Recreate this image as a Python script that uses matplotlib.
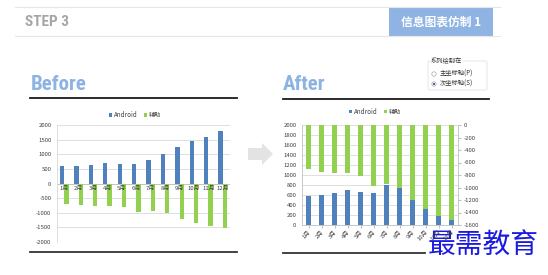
import matplotlib
matplotlib.use("Agg")
import matplotlib.pyplot as plt
from matplotlib import font_manager
from matplotlib.patches import Rectangle, FancyArrow, FancyBboxPatch, Circle
import numpy as np

plt.rcParams['font.family'] = ['Noto Sans CJK SC', 'DejaVu Sans']

# data
months = ['1月', '2月', '3月', '4月', '5月', '6月', '7月', '8月', '9月', '10月', '11月', '12月']
android = [590, 610, 640, 700, 670, 650, 810, 1020, 1240, 1440, 1600, 1800]
fuzhu = [-700, -750, -760, -770, -820, -980, -950, -1000, -1200, -1350, -1450, -1520]
series_names = ['Android', '辅助']
before_ticks = [-2000, -1500, -1000, -500, 0, 500, 1000, 1500, 2000]
after_left_ticks = list(range(0, 2001, 200))
after_right_ticks = list(range(-1600, 1, 200))

BLUE = '#4f81bd'
GREEN = '#92d050'
TITLE_BLUE = '#8db3e2'
GRID = '#d9d9d9'
TXT = '#404040'

# pick a narrow font for the headings if one is around
names = {f.name for f in font_manager.fontManager.ttflist}
narrow = None
for cand in ['Liberation Sans Narrow', 'Roboto Condensed', 'DejaVu Sans Condensed',
             'Open Sans Condensed']:
    if cand in names:
        narrow = cand
        break
print('narrow font:', narrow)
HEAD = [narrow, 'DejaVu Sans'] if narrow else ['DejaVu Sans']

W, H = 548, 275
fig = plt.figure(figsize=(W / 100, H / 100), dpi=100)
fig.patch.set_facecolor('white')


def box(x0, y0, x1, y1):
    # pixel box -> figure fraction
    return [x0 / W, 1 - y1 / H, (x1 - x0) / W, (y1 - y0) / H]


# background layer for decorations, in pixel coords
bg = fig.add_axes([0, 0, 1, 1])
bg.set_xlim(0, W)
bg.set_ylim(H, 0)
bg.axis('off')

# header band
bg.plot([15, 500], [7, 7], color='#e6e6e6', lw=0.8)
bg.plot([15, 500], [36, 36], color='#e6e6e6', lw=0.8)
bg.text(25, 22, 'STEP 3', color='#a6a6a6', fontsize=11 if narrow else 9.5,
        fontweight='bold', family=HEAD, va='center', ha='left')
bg.add_patch(Rectangle((389, 7), 104, 29, color='#8fb4e3', lw=0))
bg.text(441, 22, '信息图表仿制 1', color='white', fontsize=8.5, fontweight='bold',
        va='center', ha='center')

# section titles
for x, label in [(31, 'Before'), (283, 'After')]:
    bg.text(x, 85, label, color=TITLE_BLUE, fontsize=15 if narrow else 12,
            fontweight='bold', family=HEAD, va='center', ha='left')
bg.plot([30, 237], [98, 98], color='#1a1a1a', lw=1.3)
bg.plot([283, 489], [99, 99], color='#1a1a1a', lw=1.3)
bg.plot([30, 237], [252, 252], color='#333333', lw=1.3)
bg.plot([283, 425], [253, 253], color='#333333', lw=1.3)

# grey arrow between charts
bg.add_patch(FancyArrow(248, 154, 14, 0, width=12, head_width=22, head_length=11,
                        color='#e3e3e3', lw=0, length_includes_head=False))

# series dialog
bg.add_patch(FancyBboxPatch((428, 61), 59, 29, boxstyle='round,pad=0,rounding_size=2',
                            fc='white', ec='#e0e0e0', lw=0.6))
bg.text(431, 61, '系列绘制在', fontsize=4.5, color='#333333', va='center', ha='left',
        bbox=dict(fc='white', ec='none', pad=0.3))
bg.add_patch(Circle((434, 74), 2.2, fc='white', ec='#aaaaaa', lw=0.5))
bg.add_patch(Circle((434, 84), 2.2, fc='white', ec='#aaaaaa', lw=0.5))
bg.add_patch(Circle((434, 84), 1.1, fc='#2f5d8f', ec='none'))
bg.text(440, 74, '主坐标轴(P)', fontsize=4.5, color='#333333', va='center', ha='left')
bg.text(440, 84, '次坐标轴(S)', fontsize=4.5, color='#333333', va='center', ha='left')

x = np.arange(len(months))

# ---- Before chart ----
ax1 = fig.add_axes(box(57, 125, 230, 242))
ax1.bar(x - 0.15, android, width=0.3, color=BLUE, zorder=3, label=series_names[0])
ax1.bar(x + 0.15, fuzhu, width=0.3, color=GREEN, zorder=3, label=series_names[1])
ax1.set_xlim(-0.5, len(months) - 0.5)
ax1.set_ylim(-2000, 2000)
ax1.set_yticks(before_ticks)
ax1.set_yticklabels([str(t) for t in before_ticks], fontsize=4.3, color=TXT)
ax1.set_xticks([])
ax1.grid(axis='y', color=GRID, lw=0.6, zorder=0)
for s in ['top', 'right', 'bottom']:
    ax1.spines[s].set_visible(False)
ax1.spines['left'].set_color(GRID)
ax1.spines['left'].set_linewidth(0.6)
ax1.tick_params(axis='y', length=0, pad=4)
ax1.axhline(0, color='#bfbfbf', lw=0.6, zorder=2)
for i, m in enumerate(months):
    ax1.text(i, -100, m, fontsize=4.3, color=TXT, ha='center', va='top', zorder=4)
ax1.legend(ncol=2, loc='lower center', bbox_to_anchor=(0.45, 1.03), frameon=False,
           fontsize=4.5, handlelength=0.5, handleheight=0.5, handletextpad=0.3,
           columnspacing=1.0, labelcolor=TXT, borderaxespad=0)

# ---- After chart ----
ax2 = fig.add_axes(box(302, 125, 458, 225))
ax2.bar(x, android, width=0.45, color=BLUE, zorder=3, label=series_names[0])
ax2.set_xlim(-0.5, len(months) - 0.5)
ax2.set_ylim(0, 2000)
ax2.set_yticks(after_left_ticks)
ax2.set_yticklabels([str(t) for t in after_left_ticks], fontsize=4.3, color=TXT)
ax2.grid(axis='y', color=GRID, lw=0.6, zorder=0)
ax2.set_xticks(x)
ax2.set_xticklabels(months, rotation=45, ha='right', rotation_mode='anchor',
                    fontsize=4.3, color=TXT)
ax2.tick_params(axis='x', length=2, color='#bfbfbf', pad=1)
ax2.tick_params(axis='y', length=0, pad=4)
for s in ['top', 'right']:
    ax2.spines[s].set_visible(False)
for s in ['left', 'bottom']:
    ax2.spines[s].set_color('#bfbfbf')
    ax2.spines[s].set_linewidth(0.6)

ax3 = ax2.twinx()
ax3.bar(x, fuzhu, width=0.45, color=GREEN, zorder=3, label=series_names[1])
ax3.set_ylim(-1600, 0)
ax3.set_yticks(after_right_ticks)
ax3.set_yticklabels([str(t) for t in after_right_ticks], fontsize=4.3, color=TXT)
ax3.tick_params(axis='y', length=2, color='#bfbfbf', pad=2)
for s in ['top', 'left', 'bottom']:
    ax3.spines[s].set_visible(False)
ax3.spines['right'].set_color('#bfbfbf')
ax3.spines['right'].set_linewidth(0.6)

h1, l1 = ax2.get_legend_handles_labels()
h2, l2 = ax3.get_legend_handles_labels()
ax3.legend(h1 + h2, l1 + l2, ncol=2, loc='lower center', bbox_to_anchor=(0.47, 1.07),
           frameon=False, fontsize=4.5, handlelength=0.5, handleheight=0.5,
           handletextpad=0.3, columnspacing=1.0, labelcolor=TXT, borderaxespad=0)

# watermark
bg.text(483, 245, '最需教育', color='#1a1ae0', fontsize=20,
        ha='center', va='center', fontweight='normal')

fig.savefig('out.png', dpi=100, facecolor='white')
